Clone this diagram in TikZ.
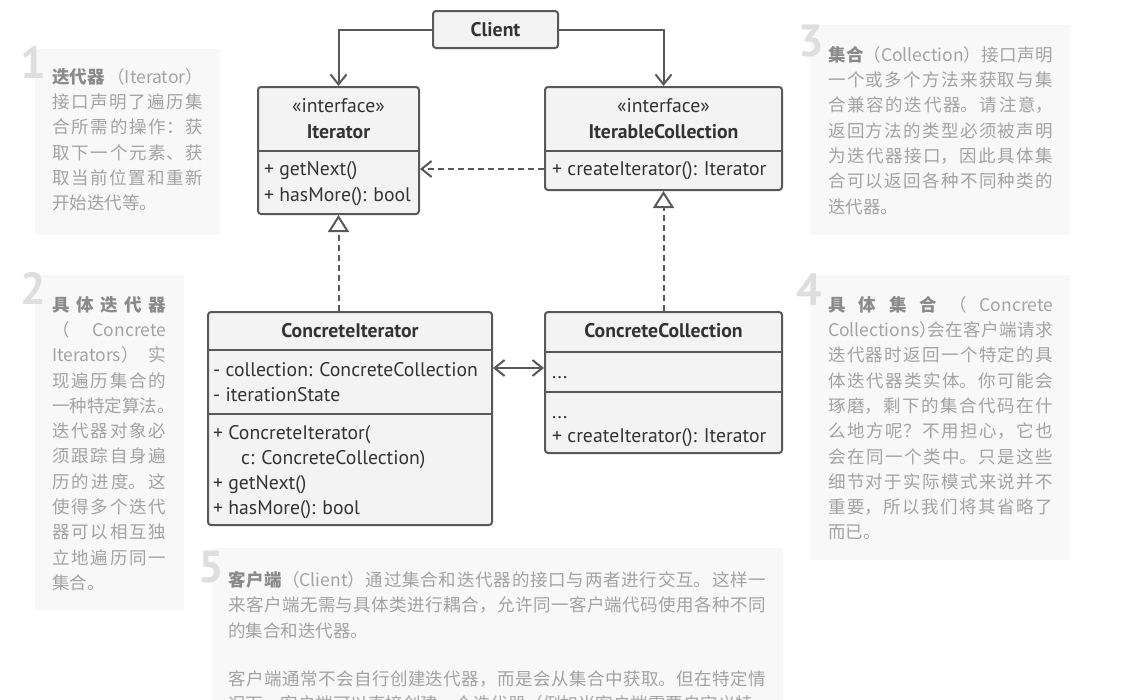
\documentclass[tikz,border=0pt]{standalone}
\usepackage{fontspec}
\setmainfont{PT Sans}
\newfontfamily\cjk{Noto Sans CJK SC}
\usetikzlibrary{arrows.meta}
\XeTeXlinebreaklocale "zh"
\XeTeXlinebreakskip=0pt plus 3pt
\tolerance=10000
\hbadness=10000
\definecolor{boxfill}{HTML}{F3F3F3}
\definecolor{linec}{HTML}{595959}
\definecolor{txt}{HTML}{333333}
\definecolor{notefill}{HTML}{F8F8F8}
\definecolor{notetxt}{HTML}{A3A3A3}
\definecolor{notebold}{HTML}{8A8A8A}
\definecolor{digitc}{HTML}{DEDEDE}
\newcommand{\umlfont}{\fontsize{19.7}{23}\selectfont}
\newcommand{\notefont}{\cjk\fontsize{17.5}{25.3}\selectfont}
\newcommand{\hd}[1]{\textcolor{notebold}{\textbf{#1}}}
% full-width punctuation set on half an em
\newcommand{\hp}[1]{\makebox[0.5em][l]{#1}}
\begin{document}
\begin{tikzpicture}[x=1pt,y=-1pt,
  umlbox/.style={draw=linec, fill=boxfill, line width=2pt, rounded corners=3pt, inner sep=0pt},
  row/.style={anchor=west, inner sep=0pt, text height=16pt, text depth=2.5pt, font=\umlfont, text=txt},
  title/.style={anchor=center, inner sep=0pt, text height=16pt, text depth=2.5pt, font=\umlfont, text=txt},
  conn/.style={draw=linec, line width=2pt},
  divider/.style={draw=linec, line width=2pt},
  assoc/.style={conn, -{Straight Barb[length=10pt,width=16pt]}},
  biassoc/.style={conn, {Straight Barb[length=10pt,width=16pt]}-{Straight Barb[length=10pt,width=16pt]}},
  dep/.style={conn, dash pattern=on 6pt off 4pt, -{Straight Barb[length=10pt,width=16pt]}},
  realize/.style={conn, dash pattern=on 6pt off 4pt, -{Triangle[open, length=17pt, width=21pt, fill=white]}},
  note/.style={fill=notefill, draw=none},
  notetext/.style={anchor=north west, inner sep=0pt, align=justify, text=notetxt, font=\notefont},
  digit/.style={anchor=base west, inner sep=0pt, text=digitc, font=\fontsize{45}{45}\selectfont\bfseries},
]
\clip (0,0) rectangle (1122,699);
\fill[white] (0,0) rectangle (1122,699);

% ---------- explanatory notes ----------
\fill[note] (35,49) rectangle (220,235);
\fill[note] (35,275) rectangle (184,610);
\fill[note] (810,25) rectangle (1070,235);
\fill[note] (810,275) rectangle (1070,560);
\fill[note] (212,548) rectangle (783,720);

\node[digit] (d1) at (20,78) {1};
\node[digit] (d2) at (20,304) {2};
\node[digit] (d3) at (798,56) {3};
\node[digit] (d4) at (796,305) {4};
\node[digit] (d5) at (198,582) {5};

\node[notetext, text width=151pt] (n1) at (52,68) {%
\hd{迭代器} （Iterator）\linebreak
接口声明了遍历集\linebreak
合所需的操作：获\linebreak
取下一个元素、获\linebreak
取当前位置和重新\linebreak
开始迭代等。};

\node[notetext, text width=114pt] (n2) at (52,296) {%
\hd{具体迭代器}\linebreak
（ Concrete\linebreak
Iterators） 实\linebreak
现遍历集合的\linebreak
一种特定算法\hp{。}\linebreak
迭代器对象必\linebreak
须跟踪自身遍\linebreak
历的进度。这\linebreak
使得多个迭代\linebreak
器可以相互独\linebreak
立地遍历同一\linebreak
集合。};

\node[notetext, text width=225pt] (n3) at (828,46) {%
\hd{集合}（Collection）接口声明\linebreak
一个或多个方法来获取与集\linebreak
合兼容的迭代器。请注意，\linebreak
返回方法的类型必须被声明\linebreak
为迭代器接口，因此具体集\linebreak
合可以返回各种不同种类的\linebreak
迭代器。};

\node[notetext, text width=225pt] (n4) at (828,296) {%
\hd{具体集合} （ Concrete\linebreak
Collections\hp{）}会在客户端请求\linebreak
迭代器时返回一个特定的具\linebreak
体迭代器类实体。你可能会\linebreak
琢磨，剩下的集合代码在什\linebreak
么地方呢？不用担心，它也\linebreak
会在同一个类中。只是这些\linebreak
细节对于实际模式来说并不\linebreak
重要，所以我们将其省略了\linebreak
而已。};

\node[notetext, text width=538pt] (n5) at (228,571) {%
\hd{客户端}（Client）通过集合和迭代器的接口与两者进行交互。这样一\linebreak
来客户端无需与具体类进行耦合，允许同一客户端代码使用各种不同\linebreak
的集合和迭代器。\par\vspace{22.7pt}
客户端通常不会自行创建迭代器，而是会从集合中获取。但在特定情\linebreak
况下，客户端可以直接创建一个迭代器（例如当客户端需要自定义特};

% ---------- class boxes ----------
\node[umlbox, minimum width=125pt, minimum height=37pt] (client) at (495.5,29.5) {};
\node[title, font=\umlfont\bfseries] (clientname) at (client.center) {Client};

\node[umlbox, minimum width=161pt, minimum height=127pt] (iter) at (338.5,150.5) {};
\draw[divider] (iter.west |- 0,151) -- (iter.east |- 0,151);
\node[title] (iterst) at (338.5,106) {«interface»};
\node[title, font=\umlfont\bfseries] (itername) at (338.5,132) {Iterator};
\node[row] (it1) at (264,169) {+ getNext()};
\node[row] (it2) at (264,195) {+ hasMore(): bool};

\node[umlbox, minimum width=237pt, minimum height=103pt] (icoll) at (663.5,138.5) {};
\draw[divider] (icoll.west |- 0,151) -- (icoll.east |- 0,151);
\node[title] (icollst) at (663.5,106) {«interface»};
\node[title, font=\umlfont\bfseries] (icollname) at (663.5,132) {IterableCollection};
\node[row] (ic1) at (552,169) {+ createIterator(): Iterator};

\node[umlbox, minimum width=284pt, minimum height=213pt] (citer) at (350,418.5) {};
\draw[divider] (citer.west |- 0,350) -- (citer.east |- 0,350);
\draw[divider] (citer.west |- 0,414) -- (citer.east |- 0,414);
\node[title, font=\umlfont\bfseries] (citername) at (350,331) {ConcreteIterator};
\node[row] (ci1) at (213,370) {- collection: ConcreteCollection};
\node[row] (ci2) at (213,395) {- iterationState};
\node[row] (ci3) at (213,433) {+ ConcreteIterator(};
\node[row] (ci4) at (241,458) {c: ConcreteCollection)};
\node[row] (ci5) at (213,483) {+ getNext()};
\node[row] (ci6) at (213,508) {+ hasMore(): bool};

\node[umlbox, minimum width=237pt, minimum height=141pt] (ccoll) at (663.5,382.5) {};
\draw[divider] (ccoll.west |- 0,352) -- (ccoll.east |- 0,352);
\draw[divider] (ccoll.west |- 0,392) -- (ccoll.east |- 0,392);
\node[title, font=\umlfont\bfseries] (ccollname) at (663.5,331) {ConcreteCollection};
\node[row] (cc1) at (552,372) {...};
\node[row] (cc2) at (552,412) {...};
\node[row] (cc3) at (552,436) {+ createIterator(): Iterator};

% ---------- relations ----------
\draw[assoc] (client.west) -| (iter.north);
\draw[assoc] (client.east) -| (icoll.north);
\draw[dep] (icoll.west |- ic1) -- (iter.east |- ic1);
\draw[realize] (iter.south |- citer.north) -- (iter.south);
\draw[realize] (ccoll.north) -- (icoll.south);
\draw[biassoc] (citer.east |- 0,368) -- (ccoll.west |- 0,368);
\end{tikzpicture}
\end{document}
